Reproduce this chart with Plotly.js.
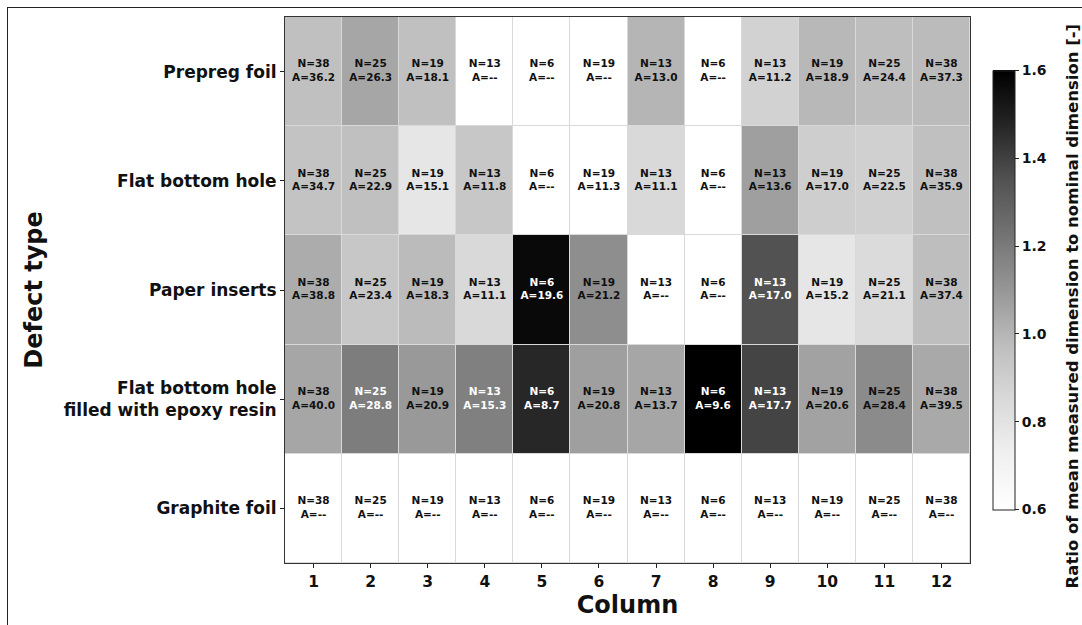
<!DOCTYPE html>
<html>
<head>
<meta charset="utf-8">
<script src="https://cdn.plot.ly/plotly-3.0.1.min.js"></script>
<style>
  html, body { margin: 0; padding: 0; background: #fff; }
  #wrap { position: relative; width: 1082px; height: 625px; overflow: hidden; }
  #frame { position: absolute; left: 7px; top: 7px; width: 1200px; height: 700px; border: 1px solid #222; box-sizing: border-box; pointer-events: none; }
  #chart { position: absolute; left: 0; top: 0; width: 1082px; height: 625px; }
</style>
</head>
<body>
<div id="wrap">
  <div id="chart"></div>
  <div id="frame"></div>
</div>
<script>
// ---- data ----
const columns = [1, 2, 3, 4, 5, 6, 7, 8, 9, 10, 11, 12];
const defectTypes = ['Prepreg foil', 'Flat bottom hole', 'Paper inserts',
                     'Flat bottom hole<br>filled with epoxy resin', 'Graphite foil'];
const nCounts = [38, 25, 19, 13, 6, 19, 13, 6, 13, 19, 25, 38];

// A values per defect type (null = "--")
const prepregA  = [36.2, 26.3, 18.1, null, null, null, 13.0, null, 11.2, 18.9, 24.4, 37.3];
const fbhA      = [34.7, 22.9, 15.1, 11.8, null, 11.3, 11.1, null, 13.6, 17.0, 22.5, 35.9];
const paperA    = [38.8, 23.4, 18.3, 11.1, 19.6, 21.2, null, null, 17.0, 15.2, 21.1, 37.4];
const epoxyA    = [40.0, 28.8, 20.9, 15.3, 8.7, 20.8, 13.7, 9.6, 17.7, 20.6, 28.4, 39.5];
const graphiteA = [null, null, null, null, null, null, null, null, null, null, null, null];

// ratio of mean measured dimension to nominal dimension (estimated from grey level)
const prepregR  = [0.96, 1.05, 0.96, null, null, null, 1.00, null, 0.88, 0.99, 0.97, 0.98];
const fbhR      = [0.95, 0.96, 0.78, 0.93, null, 0.58, 0.85, null, 1.07, 0.90, 0.89, 0.96];
const paperR    = [1.03, 0.93, 0.98, 0.85, 1.57, 1.13, null, null, 1.35, 0.78, 0.84, 0.97];
const epoxyR    = [1.05, 1.19, 1.09, 1.18, 1.47, 1.07, 1.05, 1.60, 1.39, 1.06, 1.14, 1.04];
const graphiteR = [null, null, null, null, null, null, null, null, null, null, null, null];

const colorbarTicks = [0.6, 0.8, 1.0, 1.2, 1.4, 1.6];

// ---- build ----
const aRows = [prepregA, fbhA, paperA, epoxyA, graphiteA];
const rRows = [prepregR, fbhR, paperR, epoxyR, graphiteR];
const zMin = 0.6, zMax = 1.6;

// missing values are drawn as the lowest colour (white), like the reference
const zDisplay = rRows.map(r => r.map(v => v === null ? zMin : v));

const greys = [
  [0.0, '#ffffff'], [0.125, '#f0f0f0'], [0.25, '#d9d9d9'], [0.375, '#bdbdbd'],
  [0.5, '#969696'], [0.625, '#737373'], [0.75, '#525252'], [0.875, '#252525'], [1.0, '#000000']
];

const tx = [], ty = [], tt = [], tc = [];
defectTypes.forEach((d, i) => {
  columns.forEach((c, j) => {
    const a = aRows[i][j];
    const r = rRows[i][j];
    tx.push(c);
    ty.push(d);
    tt.push('N=' + nCounts[j] + '<br>A=' + (a === null ? '--' : a.toFixed(1)));
    tc.push(r !== null && r > 1.16 ? '#ffffff' : '#111111');
  });
});

const FONT = 'DejaVu Sans, Verdana, sans-serif';

const heat = {
  type: 'heatmap',
  x: columns,
  y: defectTypes,
  z: zDisplay,
  zmin: zMin,
  zmax: zMax,
  colorscale: greys,
  xgap: 1,
  ygap: 1,
  hoverinfo: 'skip',
  colorbar: {
    x: 1.034, xanchor: 'left', xpad: 0, ypad: 0,
    y: 0.5, yanchor: 'middle',
    len: 0.804, lenmode: 'fraction',
    thickness: 22,
    outlinewidth: 1, outlinecolor: '#222',
    tickvals: colorbarTicks,
    ticktext: colorbarTicks.map(v => v.toFixed(1)),
    ticks: 'outside', ticklen: 4, tickcolor: '#222',
    tickfont: { family: FONT, size: 14, color: '#111', weight: 'bold' }
  }
};

const labels = {
  type: 'scatter',
  mode: 'text',
  x: tx, y: ty, text: tt,
  textposition: 'middle center',
  textfont: { family: FONT, size: 10.5, color: tc, weight: 'bold' },
  hoverinfo: 'skip',
  showlegend: false
};

const layout = {
  width: 1082, height: 625,
  margin: { l: 285, r: 112, t: 17, b: 62 },
  paper_bgcolor: '#ffffff',
  plot_bgcolor: '#d9d9d9',
  showlegend: false,
  font: { family: FONT, color: '#111' },
  xaxis: {
    type: 'linear',
    range: [0.5, 12.5],
    tickvals: columns,
    ticktext: columns.map(String),
    ticks: 'outside', ticklen: 4, tickcolor: '#222',
    showgrid: false, zeroline: false,
    showline: true, mirror: true, linecolor: '#333', linewidth: 1,
    tickfont: { family: FONT, size: 15.5, color: '#111', weight: 'bold' },
    title: { text: 'Column', font: { family: FONT, size: 24, color: '#111', weight: 'bold' }, standoff: 6 }
  },
  yaxis: {
    type: 'category',
    categoryorder: 'array',
    categoryarray: defectTypes,
    autorange: 'reversed',
    ticks: 'outside', ticklen: 4, tickcolor: '#222',
    showgrid: false, zeroline: false,
    showline: true, mirror: true, linecolor: '#333', linewidth: 1,
    tickfont: { family: FONT, size: 17, color: '#111', weight: 'bold' },
    title: { text: 'Defect type', font: { family: FONT, size: 24, color: '#111', weight: 'bold' }, standoff: 14 }
  },
  annotations: [{
    xref: 'paper', yref: 'paper',
    x: 1.149, y: 0.47,
    xanchor: 'center', yanchor: 'middle',
    text: 'Ratio of mean measured dimension to nominal dimension [-]',
    textangle: -90,
    showarrow: false,
    font: { family: FONT, size: 16.5, color: '#111', weight: 'bold' }
  }]
};

Plotly.newPlot('chart', [heat, labels], layout, { displayModeBar: false, staticPlot: true });
</script>
</body>
</html>
